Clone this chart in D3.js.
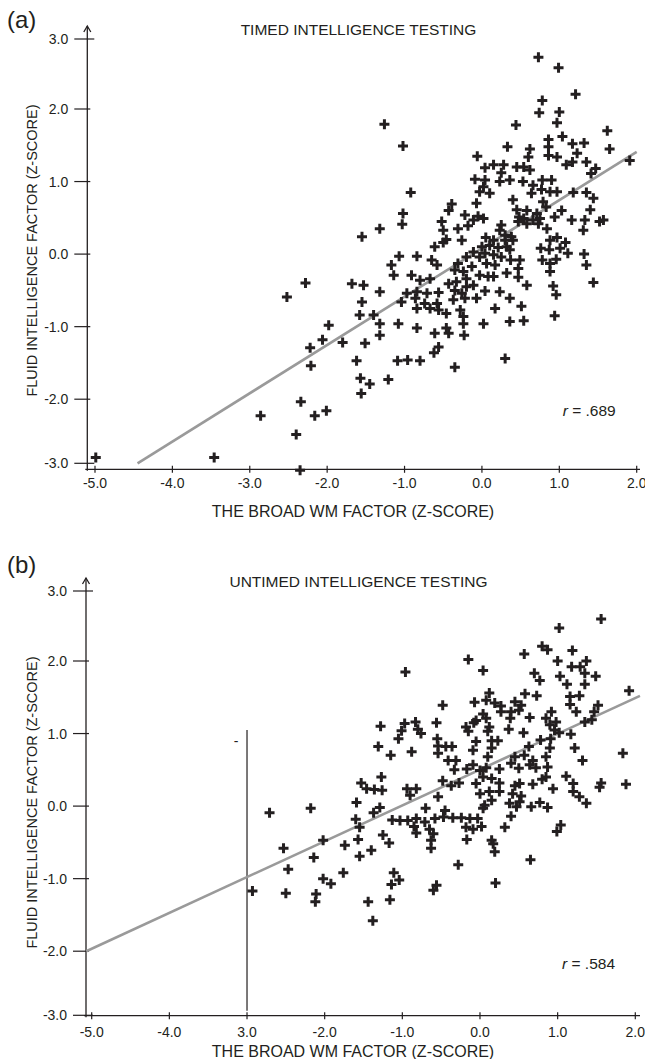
<!DOCTYPE html>
<html>
<head>
<meta charset="utf-8">
<script src="https://cdn.jsdelivr.net/npm/d3@7"></script>
<style>
  body { margin: 0; background: #fff; }
  svg text { font-family: "Liberation Sans", Arial, sans-serif; fill: #231f20; }
</style>
</head>
<body>
<svg id="chart" width="645" height="1059"></svg>
<script>
// tick values and labels
var xTicks = [-5, -4, -3, -2, -1, 0, 1, 2];
var xLabelsTimed = ["-5.0", "-4.0", "-3.0", "-2.0", "-1.0", "0.0", "1.0", "2.0"];
var xLabelsUntimed = ["-5.0", "-4.0", "3.0", "-2.0", "-1.0", "0.0", "1.0", "2.0"];
var yTicks = [3, 2, 1, 0, -1, -2, -3];
var yLabels = ["3.0", "2.0", "1.0", "0.0", "-1.0", "-2.0", "-3.0"];

// (a) timed: [WM factor, fluid intelligence]
var timedPoints = [
[0.73,2.74],[0.99,2.59],[1.21,2.21],[0.78,2.12],[0.74,1.95],[1.00,1.96],[0.97,1.81],[-1.26,1.79],[0.44,1.78],[1.62,1.70],
[1.04,1.62],[-1.02,1.49],[0.33,1.48],[0.86,1.58],[1.17,1.52],[1.32,1.53],[1.65,1.45],[0.62,1.45],[-0.06,1.35],[0.86,1.48],
[0.86,1.36],[0.97,1.34],[1.23,1.39],[0.60,1.34],[1.09,1.23],[1.17,1.27],[1.35,1.27],[1.91,1.29],[0.04,1.19],[0.15,1.23],
[0.28,1.23],[0.45,1.20],[0.54,1.20],[0.62,1.16],[1.47,1.18],[1.41,1.11],[0.25,1.12],[-0.09,1.03],[0.04,1.02],[0.23,1.00],
[0.36,1.02],[0.53,1.00],[0.66,0.95],[0.78,1.02],[0.90,1.02],[0.02,0.93],[-0.03,0.86],[0.10,0.84],[0.64,0.84],[0.77,0.89],
[0.88,0.86],[0.97,0.86],[1.18,0.85],[-0.92,0.85],[0.40,0.75],[1.35,0.85],[1.44,0.77],[-0.07,0.70],[-0.39,0.69],[0.79,0.72],
[0.83,0.65],[-0.43,0.60],[0.45,0.61],[0.58,0.60],[0.71,0.56],[1.40,0.61],[-1.02,0.56],[-0.22,0.54],[-0.05,0.52],[0.48,0.51],
[0.54,0.49],[0.66,0.47],[0.75,0.49],[0.94,0.51],[1.03,0.60],[1.16,0.47],[1.33,0.47],[1.57,0.47],[-1.03,0.41],[-0.52,0.45],
[-0.11,0.47],[0.02,0.49],[0.47,0.45],[0.58,0.42],[0.73,0.42],[0.84,0.35],[1.31,0.33],[1.52,0.45],[-1.32,0.35],[-0.50,0.33],
[-0.31,0.35],[-0.18,0.39],[0.25,0.40],[-1.55,0.24],[-0.46,0.20],[-0.26,0.19],[-0.61,0.10],[-0.50,0.16],[0.05,0.23],[0.23,0.33],
[0.30,0.26],[0.38,0.24],[0.15,0.19],[0.30,0.19],[0.40,0.19],[0.88,0.19],[0.97,0.23],[1.08,0.16],[0.00,0.10],[0.10,0.12],
[0.21,0.09],[0.32,0.10],[-0.11,0.03],[0.04,0.01],[-0.03,-0.04],[0.15,-0.01],[0.25,-0.04],[0.36,0.06],[0.76,0.08],[0.87,0.06],
[1.01,0.08],[1.11,0.01],[1.32,0.00],[-1.07,-0.03],[-0.84,-0.03],[-0.65,-0.08],[-0.58,-0.15],[-0.20,-0.04],[-0.31,-0.13],[0.06,-0.13],
[0.17,-0.15],[0.37,-0.08],[0.49,-0.08],[0.78,-0.08],[0.88,-0.13],[0.96,-0.07],[1.35,-0.15],[-1.17,-0.15],[-1.14,-0.29],[-0.91,-0.29],
[-0.80,-0.36],[-0.67,-0.34],[-0.35,-0.22],[-0.24,-0.24],[-0.13,-0.17],[-0.20,-0.34],[-0.03,-0.29],[0.08,-0.31],[0.15,-0.31],[0.32,-0.26],
[0.47,-0.32],[0.47,-0.20],[0.88,-0.24],[-1.68,-0.41],[-1.53,-0.43],[-0.43,-0.41],[-0.33,-0.38],[-0.20,-0.45],[-0.11,-0.43],[0.58,-0.43],
[0.92,-0.44],[1.44,-0.39],[-1.32,-0.52],[-0.97,-0.54],[-0.84,-0.52],[-0.71,-0.54],[-0.56,-0.53],[-0.35,-0.50],[-0.26,-0.54],[0.04,-0.51],
[0.23,-0.52],[0.96,-0.56],[-1.55,-0.66],[-1.04,-0.66],[-0.86,-0.61],[-0.58,-0.68],[-0.37,-0.63],[-0.22,-0.61],[-0.07,-0.61],[0.36,-0.61],
[-0.74,-0.68],[-0.84,-0.75],[-0.67,-0.75],[-0.56,-0.77],[-0.46,-0.82],[-0.28,-0.77],[0.17,-0.75],[0.51,-0.72],[-1.58,-0.84],[-1.40,-0.84],
[-0.24,-0.86],[-1.98,-0.98],[-1.32,-0.96],[-1.08,-0.96],[-0.84,-1.02],[-0.61,-1.09],[-0.46,-1.02],[-0.43,-1.09],[-0.24,-0.96],[0.02,-0.96],
[0.36,-0.93],[0.54,-0.92],[0.94,-0.85],[-2.06,-1.18],[-1.80,-1.22],[-1.51,-1.23],[-1.32,-1.12],[-0.23,-1.12],[-0.56,-1.28],[-0.62,-1.36],
[-1.62,-1.47],[-1.09,-1.47],[-0.96,-1.46],[-0.80,-1.47],[0.30,-1.44],[-0.35,-1.56],[-1.57,-1.71],[-1.45,-1.79],[-1.21,-1.73],[-1.56,-1.92],
[-2.01,-2.18],[-2.52,-0.59],[-2.28,-0.40],[-2.22,-1.29],[-2.21,-1.54],[-2.34,-2.04],[-2.86,-2.26],[-2.16,-2.26],[-2.40,-2.55],[-4.99,-2.91],
[-3.46,-2.91],[-2.35,-3.11]
];

// (b) untimed
var untimedPoints = [
[1.56,2.60],[1.02,2.47],[0.80,2.21],[0.87,2.16],[1.19,2.15],[0.57,2.10],[-0.15,2.02],[1.00,2.00],[1.37,2.00],[1.18,1.92],
[1.29,1.92],[-0.96,1.85],[0.04,1.87],[0.70,1.83],[1.35,1.83],[1.03,1.79],[1.49,1.79],[0.77,1.73],[1.12,1.68],[1.35,1.68],
[1.92,1.59],[0.12,1.56],[0.58,1.55],[0.73,1.52],[1.16,1.51],[1.28,1.52],[-0.07,1.43],[0.08,1.46],[0.19,1.42],[0.27,1.38],
[0.45,1.44],[0.53,1.39],[-0.48,1.39],[1.16,1.40],[1.52,1.39],[0.27,1.30],[0.40,1.30],[0.50,1.32],[0.04,1.27],[0.92,1.30],
[1.24,1.30],[1.47,1.30],[-0.05,1.18],[0.08,1.21],[0.39,1.21],[0.64,1.22],[0.85,1.21],[0.98,1.16],[1.35,1.16],[1.44,1.19],
[-1.28,1.10],[-0.97,1.14],[-0.83,1.16],[-0.56,1.15],[-0.18,1.09],[-0.08,1.15],[0.12,1.09],[0.37,1.06],[0.90,1.12],[-1.01,1.04],
[-0.80,1.06],[-0.15,1.03],[0.10,1.03],[0.56,1.01],[0.96,1.05],[1.02,1.01],[1.17,0.99],[-1.05,0.93],[-0.76,1.00],[-0.55,0.93],
[-0.05,0.89],[0.15,0.90],[0.23,0.90],[0.78,0.91],[0.91,0.93],[-1.31,0.82],[-0.54,0.83],[-0.44,0.82],[-0.36,0.82],[-0.88,0.75],
[-0.54,0.73],[-0.09,0.77],[0.15,0.80],[0.63,0.82],[0.90,0.80],[1.22,0.80],[-1.15,0.70],[1.84,0.73],[-0.41,0.63],[-0.31,0.63],
[0.10,0.68],[0.45,0.68],[0.57,0.70],[0.68,0.63],[0.85,0.68],[1.32,0.63],[-0.33,0.50],[-0.17,0.51],[-0.09,0.57],[0.00,0.49],
[0.08,0.53],[0.25,0.51],[0.40,0.59],[0.50,0.52],[0.64,0.57],[0.72,0.53],[0.87,0.54],[-1.27,0.40],[-1.53,0.32],[-0.48,0.35],
[-0.37,0.28],[-0.27,0.32],[-0.05,0.31],[0.04,0.40],[0.15,0.38],[0.25,0.32],[0.45,0.28],[0.51,0.31],[0.68,0.30],[0.80,0.37],
[0.85,0.40],[0.94,0.24],[1.11,0.41],[1.20,0.31],[1.56,0.32],[1.88,0.30],[-1.46,0.24],[-1.36,0.23],[-1.26,0.22],[-0.94,0.24],
[-0.82,0.24],[1.54,0.26],[-1.59,0.05],[-0.90,0.15],[-0.54,0.13],[0.00,0.17],[0.12,0.20],[0.25,0.20],[0.42,0.17],[0.53,0.14],
[1.20,0.20],[1.28,0.13],[-1.29,-0.02],[-0.70,-0.03],[0.06,0.01],[0.15,0.08],[0.38,0.04],[0.51,0.06],[0.66,-0.01],[0.77,0.05],
[0.87,-0.02],[1.37,0.04],[-1.37,-0.09],[-0.45,-0.06],[0.04,-0.03],[0.47,-0.01],[-1.60,-0.18],[-1.13,-0.19],[-1.03,-0.20],[-0.93,-0.20],
[-0.82,-0.17],[-0.71,-0.22],[-0.58,-0.17],[-0.47,-0.15],[-0.35,-0.16],[-0.24,-0.16],[-0.13,-0.17],[-0.03,-0.17],[0.40,-0.14],[-1.55,-0.29],
[-0.85,-0.28],[-0.82,-0.37],[-0.65,-0.32],[-0.60,-0.38],[-0.18,-0.29],[-0.09,-0.32],[0.02,-0.28],[0.32,-0.29],[1.04,-0.26],[0.99,-0.35],
[-1.25,-0.40],[-1.74,-0.54],[-1.57,-0.46],[-1.17,-0.51],[-0.63,-0.47],[-0.17,-0.46],[0.15,-0.47],[0.17,-0.52],[-2.02,-0.47],[-1.55,-0.69],
[-1.40,-0.61],[-0.63,-0.58],[0.19,-0.63],[0.65,-0.74],[-0.28,-0.81],[-1.76,-0.92],[-1.11,-0.92],[-1.04,-1.02],[-1.14,-1.08],[-2.02,-1.00],
[-1.92,-1.07],[-0.56,-1.09],[-0.60,-1.16],[0.20,-1.06],[-1.44,-1.32],[-1.16,-1.29],[-1.38,-1.58],[-2.71,-0.09],[-2.18,-0.03],[-2.53,-0.58],
[-2.14,-0.71],[-2.47,-0.87],[-2.93,-1.17],[-2.50,-1.20],[-2.11,-1.21],[-2.12,-1.32]
];

// regression lines (end points)
var timedFit = [[-4.45, -3.0], [2.0, 1.41]];
var untimedFit = [[-5.07, -2.0], [2.06, 1.52]];
// the stray vertical rule and dash in panel (b)
var untimedRule = [[-3, 1.05], [-3, -2.93]];
var untimedDash = [[-3.14, 0.88]];

var svg = d3.select("#chart");
var ink = "#231f20";
var crossPath = "M-5,0H5M0,-5V5";

function drawPanel(p) {
  var g = svg.append("g").attr("transform", "translate(0," + p.top + ")");

  var x = d3.scaleLinear().domain([-5, 2]).range(p.xRange);
  // the printed y ticks are not evenly spaced at the ends
  var y = d3.scaleLinear().domain([-3, -2, 2, 3]).range([463.3, 399.2, 109, 39]);

  // panel letter and title
  g.append("text").attr("x", 7).attr("y", p.letterY)
    .style("font-size", "24px").text(p.letter);
  g.append("text").attr("x", 358.5).attr("y", 35).attr("text-anchor", "middle")
    .style("font-size", "15.5px").text(p.title);

  // y axis
  g.append("line").attr("x1", p.axisX).attr("x2", p.axisX)
    .attr("y1", 26).attr("y2", p.axisY + 1.5)
    .attr("stroke", ink).attr("stroke-width", 1.3);
  g.append("path")
    .attr("d", "M" + (p.axisX - 3.5) + ",32L" + p.axisX + ",26L" + (p.axisX + 3.5) + ",32")
    .attr("fill", "none").attr("stroke", ink).attr("stroke-width", 1.3);

  g.selectAll(".ytick").data(yTicks).enter().append("line")
    .attr("x1", p.axisX - 13)
    .attr("x2", function(d) { return Math.abs(d) == 3 ? p.axisX + 7 : p.axisX + 3; })
    .attr("y1", function(d) { return y(d); })
    .attr("y2", function(d) { return y(d); })
    .attr("stroke", ink).attr("stroke-width", 1.2);

  g.selectAll(".ylab").data(yTicks).enter().append("text")
    .attr("x", p.axisX - 19)
    .attr("y", function(d) { return y(d) + 5; })
    .attr("text-anchor", "end")
    .style("font-size", "14px")
    .text(function(d, i) { return yLabels[i]; });

  g.append("text")
    .attr("transform", "translate(" + p.yTitleX + ",250.5) rotate(-90)")
    .attr("text-anchor", "middle")
    .style("font-size", "14.5px")
    .text("FLUID INTELLIGENCE FACTOR (Z-SCORE)");

  // x axis
  g.append("line").attr("x1", p.axisX - 2).attr("x2", 640)
    .attr("y1", p.axisY).attr("y2", p.axisY)
    .attr("stroke", ink).attr("stroke-width", 1.3);

  g.selectAll(".xtick").data(xTicks).enter().append("line")
    .attr("x1", function(d) { return x(d); })
    .attr("x2", function(d) { return x(d); })
    .attr("y1", p.axisY - 3.5).attr("y2", p.axisY + 3.5)
    .attr("stroke", ink).attr("stroke-width", 1.2);

  g.selectAll(".xlab").data(xTicks).enter().append("text")
    .attr("x", function(d) { return x(d); })
    .attr("y", p.xTickY)
    .attr("text-anchor", "middle")
    .style("font-size", "14px")
    .text(function(d, i) { return p.xLabels[i]; });

  g.append("text").attr("x", 353).attr("y", p.xTitleY)
    .attr("text-anchor", "middle")
    .style("font-size", "16px")
    .text("THE BROAD WM FACTOR (Z-SCORE)");

  var line = d3.line()
    .x(function(d) { return x(d[0]); })
    .y(function(d) { return y(d[1]); });

  if (p.rule) {
    g.append("path").datum(p.rule)
      .attr("d", line)
      .attr("stroke", ink).attr("stroke-width", 1.2).attr("fill", "none");
    g.selectAll(".dash").data(p.dash).enter().append("text")
      .attr("x", function(d) { return x(d[0]); })
      .attr("y", function(d) { return y(d[1]) + 4; })
      .attr("text-anchor", "middle")
      .style("font-size", "14px")
      .text("-");
  }

  // regression line
  g.append("path").datum(p.fit)
    .attr("d", line)
    .attr("stroke", "#9a9a9a").attr("stroke-width", 2.6).attr("fill", "none");

  // points
  g.append("g").selectAll("path").data(p.points).enter().append("path")
    .attr("d", crossPath)
    .attr("transform", function(d) { return "translate(" + x(d[0]) + "," + y(d[1]) + ")"; })
    .attr("stroke", ink).attr("stroke-width", 3).attr("fill", "none");

  // correlation
  var r = g.append("text").attr("x", p.rX).attr("y", p.rY).style("font-size", "15.5px");
  r.append("tspan").style("font-style", "italic").text("r");
  r.append("tspan").text(" = " + p.r);
}

drawPanel({
  top: 0, letter: "(a)", letterY: 28, title: "TIMED INTELLIGENCE TESTING",
  xRange: [95, 636.7], axisX: 87.3, axisY: 469.3, xTickY: 488.3, xTitleY: 517,
  yTitleX: 37.3, xLabels: xLabelsTimed, points: timedPoints, fit: timedFit,
  r: ".689", rX: 562.7, rY: 416
});

drawPanel({
  top: 552, letter: "(b)", letterY: 21.3, title: "UNTIMED INTELLIGENCE TESTING",
  xRange: [91.7, 635.3], axisX: 86, axisY: 463.7, xTickY: 485.3, xTitleY: 505,
  yTitleX: 36.8, xLabels: xLabelsUntimed, points: untimedPoints, fit: untimedFit,
  rule: untimedRule, dash: untimedDash,
  r: ".584", rX: 562, rY: 417
});
</script>
</body>
</html>
